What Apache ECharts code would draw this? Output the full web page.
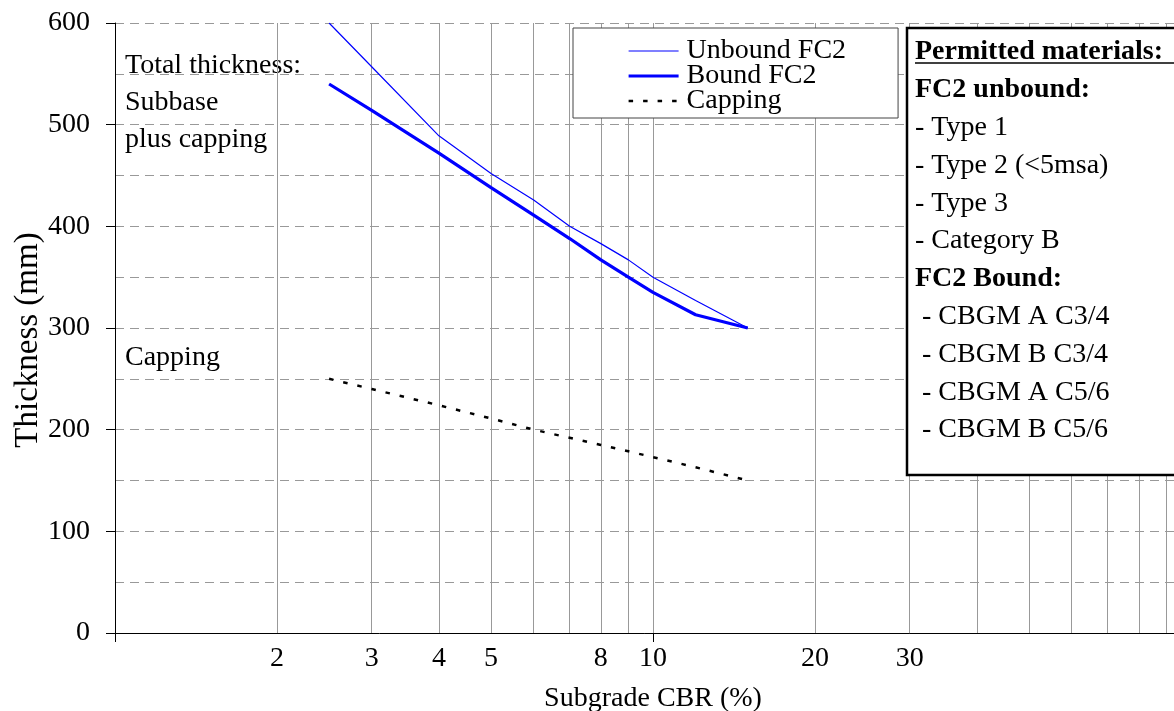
<!DOCTYPE html>
<html>
<head>
<meta charset="utf-8">
<title>Subbase and capping thickness</title>
<script src="https://cdn.jsdelivr.net/npm/echarts@6/dist/echarts.min.js"></script>
<style>
  html, body { margin: 0; padding: 0; background: #fff; }
  #chart { width: 1174px; height: 711px; }
</style>
</head>
<body>
<div id="chart"></div>
<script>
// values: subgrade CBR (%) -> thickness (mm)
var cbrUnbound = [2.5, 3, 4, 5, 6, 7, 8, 9, 10, 12, 15];
var thkUnbound = [600, 557, 489, 452, 426, 400, 383, 367, 350, 327, 300];
var cbrBound = [2.5, 3, 4, 5, 6, 7, 8, 9, 10, 12, 15];
var thkBound = [540, 514, 472, 438, 411, 388, 367, 350, 335, 313, 300];
var cbrCapping = [2.5, 3, 4, 5, 6, 8, 10, 12, 15];
var thkCapping = [250, 240, 224, 211, 200, 185, 173, 163, 150];

var seriesNames = ['Unbound FC2', 'Bound FC2', 'Capping'];
var xLabelValues = [2, 3, 4, 5, 8, 10, 20, 30];
var xGridValues = [2, 3, 4, 5, 6, 7, 8, 9, 10, 20, 30, 40, 50, 60, 70, 80, 90];

var materialLines = [
  'Permitted materials:',
  'FC2 unbound:',
  '- Type 1',
  '- Type 2 (<5msa)',
  '- Type 3',
  '- Category B',
  'FC2 Bound:',
  ' - CBGM A C3/4',
  ' - CBGM B C3/4',
  ' - CBGM A C5/6',
  ' - CBGM B C5/6'
];
var boldLines = [0, 1, 6];

var serif = '"Liberation Serif", "DejaVu Serif", serif';

function pairs(xs, ys) {
  return xs.map(function (x, i) { return [x, ys[i]]; });
}

var chart = echarts.init(document.getElementById('chart'));

// text box on the right
var boxGraphics = [{
  type: 'rect',
  z: 10,
  shape: { x: 907, y: 28, width: 300, height: 447 },
  style: { fill: '#fff', stroke: '#000', lineWidth: 2.5 }
}];
materialLines.forEach(function (t, i) {
  var bold = boldLines.indexOf(i) >= 0;
  boxGraphics.push({
    type: 'text',
    z: 11,
    x: 915,
    y: 52 + i * 37.8,
    style: {
      text: t,
      fill: '#000',
      font: (bold ? 'bold ' : '') + '28px ' + serif,
      align: 'left',
      verticalAlign: 'middle'
    }
  });
});
// underline of the heading
boxGraphics.push({
  type: 'line',
  z: 11,
  shape: { x1: 915, y1: 63, x2: 1174, y2: 63 },
  style: { stroke: '#000', lineWidth: 1.5 }
});

var option = {
  animation: false,
  backgroundColor: '#fff',
  grid: { left: 115, top: 23, width: 1076, height: 610, outerBoundsMode: 'none' },
  legend: {
    data: seriesNames,
    orient: 'vertical',
    left: 573,
    top: 28,
    itemWidth: 50,
    itemHeight: 25,
    itemGap: -3,
    padding: [9, 52, 3, 54],
    backgroundColor: '#fff',
    borderColor: '#444',
    borderWidth: 1,
    selectedMode: false,
    itemStyle: { opacity: 0 },
    lineStyle: { width: 'inherit' },
    textStyle: { fontFamily: serif, fontSize: 28, color: '#000', lineHeight: 25, padding: [0, 0, 0, 3] }
  },
  xAxis: {
    type: 'log',
    logBase: 10,
    min: 1,
    max: 100,
    name: 'Subgrade CBR (%)',
    nameLocation: 'middle',
    nameGap: 52,
    nameMoveOverlap: false,
    nameTextStyle: { fontFamily: serif, fontSize: 28, color: '#000' },
    axisLine: { lineStyle: { color: '#000', width: 1 } },
    axisTick: { show: true, length: 9, lineStyle: { color: '#000' } },
    axisLabel: {
      customValues: xLabelValues,
      fontFamily: serif, fontSize: 28, color: '#000', margin: 12,
      formatter: function (v) { return String(v); }
    },
    splitLine: { show: false }
  },
  yAxis: {
    type: 'value',
    min: 0,
    max: 600,
    interval: 100,
    name: 'Thickness (mm)',
    nameLocation: 'middle',
    nameGap: 70,
    nameMoveOverlap: false,
    nameTextStyle: { fontFamily: serif, fontSize: 33, color: '#000', padding: [0, 24, 0, 0] },
    axisLine: { show: true, lineStyle: { color: '#000', width: 1 } },
    axisTick: { show: true, length: 9, lineStyle: { color: '#000' } },
    axisLabel: { fontFamily: serif, fontSize: 28, color: '#000', margin: 25 },
    splitLine: { show: true, lineStyle: { color: '#999', width: 1, type: [9, 6] } },
    minorTick: { show: false, splitNumber: 2 },
    minorSplitLine: { show: true, lineStyle: { color: '#999', width: 1, type: [9, 6] } }
  },
  graphic: [
    {
      type: 'text',
      x: 125,
      y: 47,
      style: {
        text: 'Total thickness:\nSubbase\nplus capping',
        fill: '#000',
        font: '28px ' + serif,
        lineHeight: 37,
        align: 'left',
        verticalAlign: 'top'
      }
    },
    {
      type: 'text',
      x: 125,
      y: 358,
      style: { text: 'Capping', fill: '#000', font: '28px ' + serif, align: 'left', verticalAlign: 'middle' }
    }
  ].concat(boxGraphics),
  series: [
    {
      name: 'Unbound FC2',
      type: 'line',
      z: 3,
      symbol: 'none',
      data: pairs(cbrUnbound, thkUnbound),
      lineStyle: { color: '#0000ff', width: 1.2 },
      itemStyle: { color: '#0000ff' }
    },
    {
      name: 'Bound FC2',
      type: 'line',
      z: 3,
      symbol: 'none',
      data: pairs(cbrBound, thkBound),
      lineStyle: { color: '#0000ff', width: 3.2 },
      itemStyle: { color: '#0000ff' }
    },
    {
      name: 'Capping',
      type: 'line',
      z: 3,
      symbol: 'none',
      data: pairs(cbrCapping, thkCapping),
      lineStyle: { color: '#000', width: 2.5, type: [4.5, 10] },
      itemStyle: { color: '#000' },
      markLine: {
        silent: true,
        z: 1,
        symbol: 'none',
        animation: false,
        label: { show: false },
        lineStyle: { color: '#999', width: 1, type: 'solid' },
        data: xGridValues.map(function (v) { return { xAxis: v }; })
      }
    }
  ]
};

chart.setOption(option);
</script>
</body>
</html>
